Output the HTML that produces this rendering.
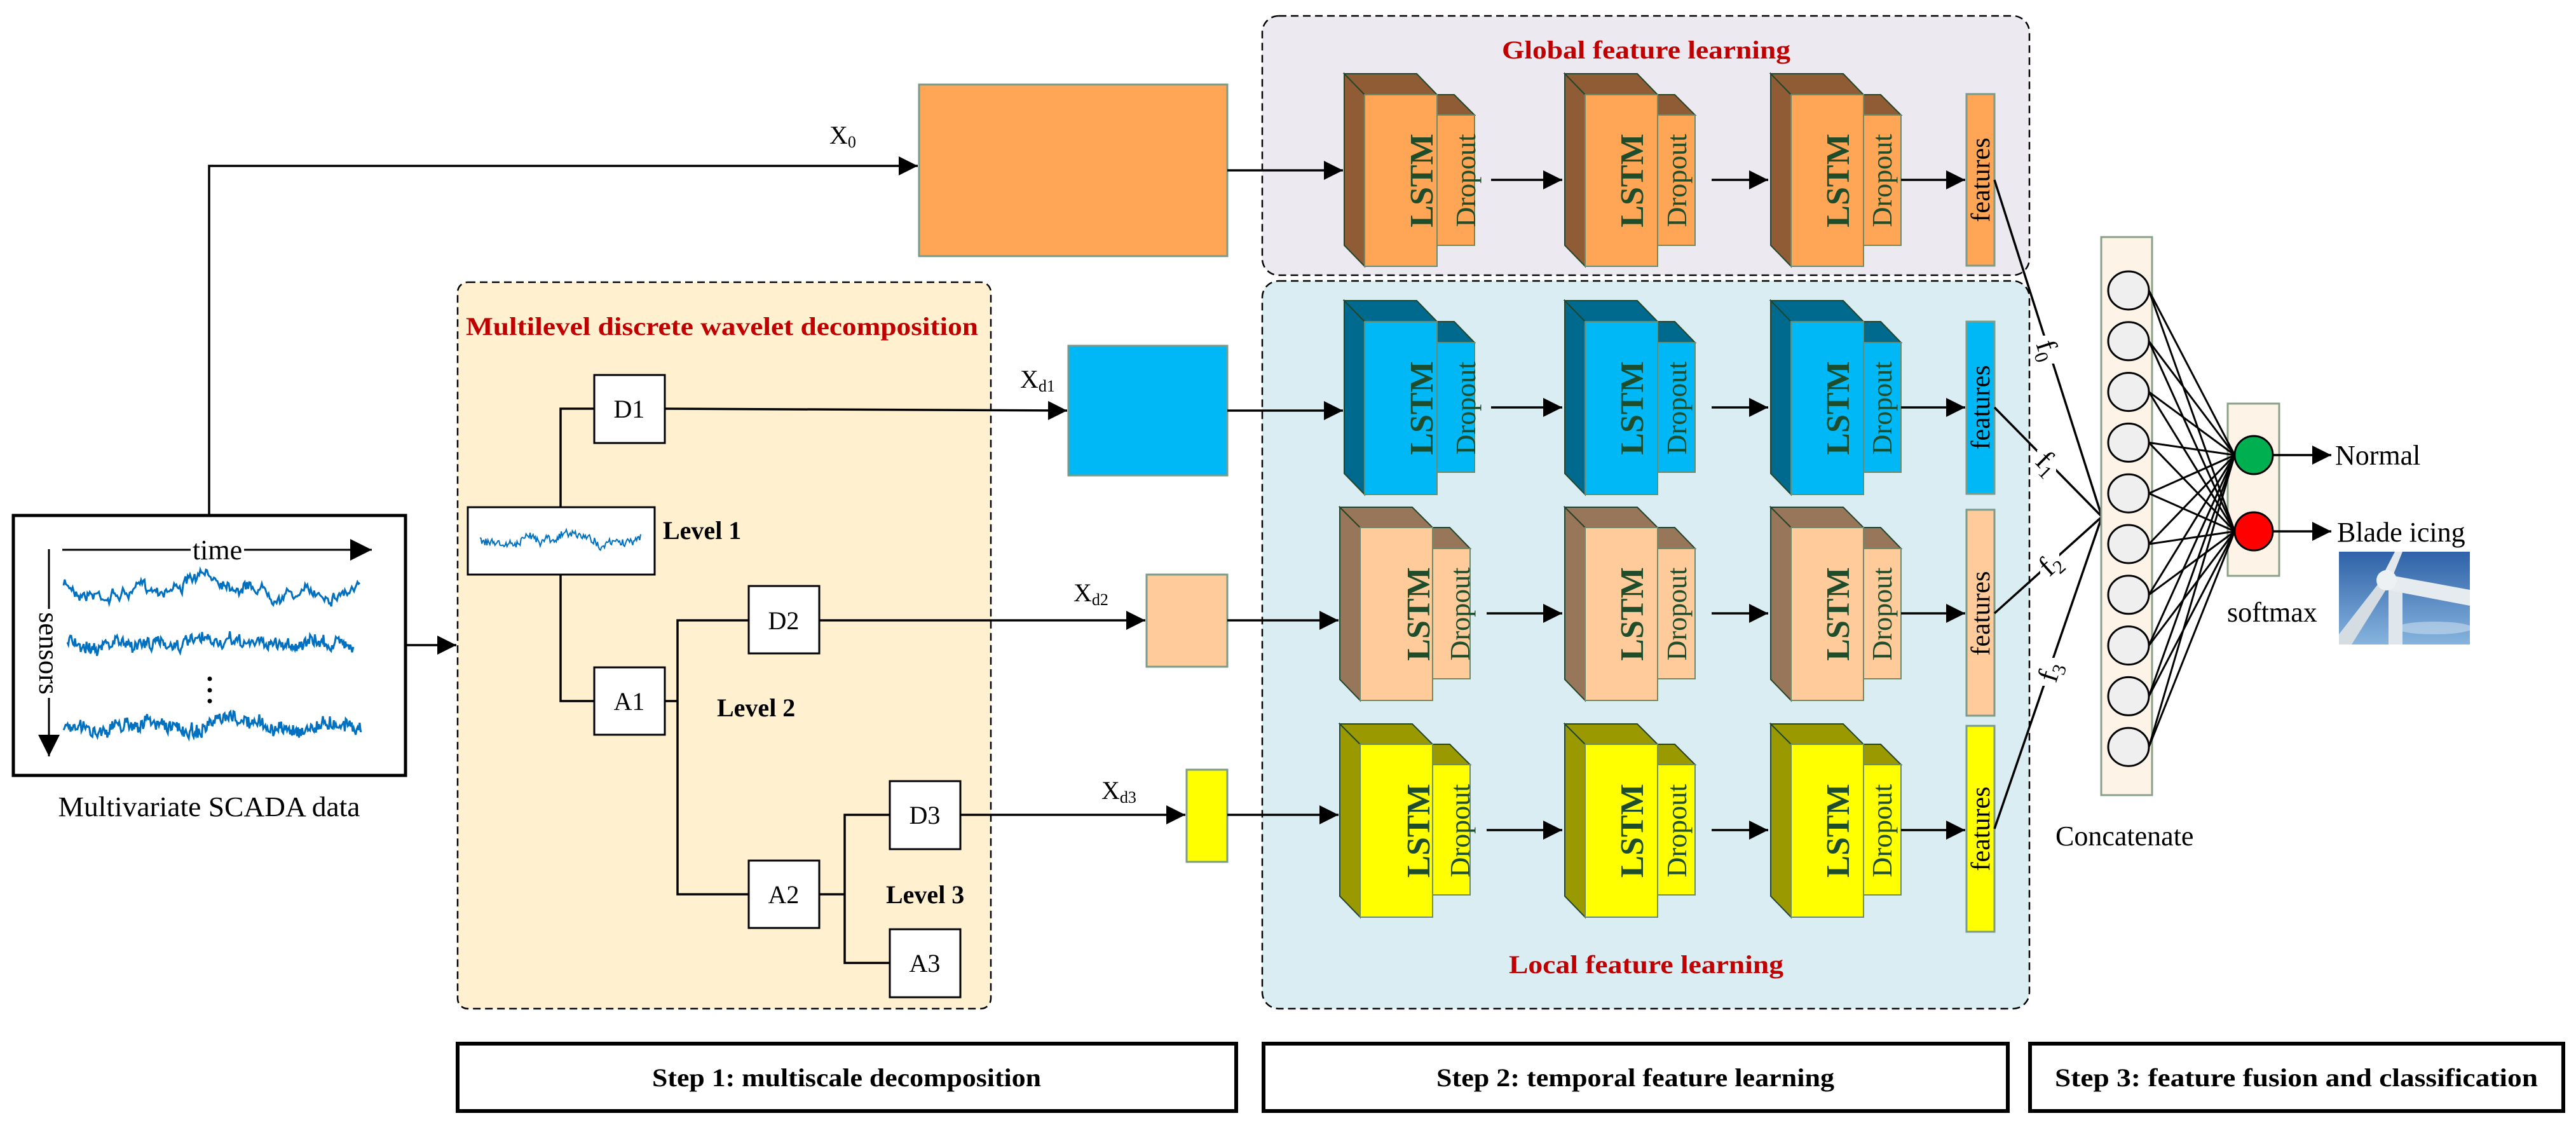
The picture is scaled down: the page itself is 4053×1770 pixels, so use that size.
<!DOCTYPE html>
<html><head><meta charset="utf-8"><style>
html,body{margin:0;padding:0;background:#fff;width:4053px;height:1770px;overflow:hidden}
svg{display:block}
text{font-family:"Liberation Serif",serif}
.b{font-weight:bold}
</style></head><body>
<svg id="s" width="4053" height="1770" viewBox="0 0 4053 1770" xmlns="http://www.w3.org/2000/svg">
<defs>
<marker id="ar" viewBox="0 0 10 10" refX="10" refY="5" markerWidth="42" markerHeight="30" markerUnits="userSpaceOnUse" orient="auto"><path d="M0,0 L10,5 L0,10 z" fill="#000"/></marker>
<marker id="a" viewBox="0 0 10 10" refX="10" refY="5" markerWidth="42" markerHeight="34" orient="auto" markerUnits="userSpaceOnUse"><path d="M0,0 L10,5 L0,10 z" fill="#000"/></marker>
<linearGradient id="sky" x1="0" y1="0" x2="0" y2="1"><stop offset="0" stop-color="#2f62a8"/><stop offset="1" stop-color="#86b4de"/></linearGradient>
</defs>
<rect x="720" y="444" width="839" height="1143" rx="16" fill="#FFF0CF" stroke="#000" stroke-width="2.5" stroke-dasharray="12,7"/>
<rect x="1986" y="25" width="1207" height="408" rx="26" fill="#ECE9F0" stroke="#000" stroke-width="2.5" stroke-dasharray="12,7"/>
<rect x="1986" y="442" width="1207" height="1145" rx="26" fill="#DAEDF3" stroke="#000" stroke-width="2.5" stroke-dasharray="12,7"/>
<text x="1136" y="527" font-size="40" class="b" fill="#C00000" text-anchor="middle" textLength="806" lengthAdjust="spacingAndGlyphs">Multilevel discrete wavelet decomposition</text>
<text x="2590" y="92" font-size="40" class="b" fill="#C00000" text-anchor="middle" textLength="454" lengthAdjust="spacingAndGlyphs">Global feature learning</text>
<text x="2590" y="1531" font-size="40" class="b" fill="#C00000" text-anchor="middle" textLength="432" lengthAdjust="spacingAndGlyphs">Local feature learning</text>

<rect x="21" y="811" width="617" height="409" fill="#fff" stroke="#000" stroke-width="5"/>
<line x1="98" y1="865" x2="585" y2="865" stroke="#000" stroke-width="3" marker-end="url(#a)"/>
<rect x="300" y="840" width="84" height="40" fill="#fff"/>
<text x="342" y="880" font-size="44" text-anchor="middle">time</text>
<line x1="77" y1="864" x2="77" y2="1190" stroke="#000" stroke-width="3" marker-end="url(#a)"/>
<rect x="60" y="958" width="34" height="140" fill="#fff"/>
<text x="0" y="0" font-size="44" text-anchor="middle" transform="translate(62,1028) rotate(90)">sensors</text>
<g id="sig" fill="none" stroke="#0070C0" stroke-width="3"></g>
<circle cx="330" cy="1068" r="3.5" fill="#000"/><circle cx="330" cy="1086" r="3.5" fill="#000"/><circle cx="330" cy="1103" r="3.5" fill="#000"/>
<text x="329" y="1284" font-size="44" text-anchor="middle" textLength="475" lengthAdjust="spacingAndGlyphs">Multivariate SCADA data</text>

<g stroke="#000" stroke-width="3.5" fill="none">
<polyline points="329,811 329,261 1444,261" marker-end="url(#ar)"/>
<line x1="639" y1="1015" x2="718" y2="1015" marker-end="url(#ar)"/>
<polyline points="935,643 882,643 882,798"/>
<polyline points="882,904 882,1103 935,1103"/>
<polyline points="1046,1103 1066,1103"/>
<polyline points="1178,976 1066,976 1066,1407 1178,1407"/>
<polyline points="1289,1407 1329,1407"/>
<polyline points="1400,1282 1329,1282 1329,1515 1400,1515"/>
<line x1="1046" y1="643" x2="1679" y2="646" marker-end="url(#ar)"/>
<line x1="1289" y1="976" x2="1802" y2="976" marker-end="url(#ar)"/>
<line x1="1511" y1="1282" x2="1865" y2="1282" marker-end="url(#ar)"/>
</g>
<g fill="#fff" stroke="#000" stroke-width="3">
<rect x="935" y="590" width="111" height="107"/>
<rect x="736" y="798" width="294" height="106"/>
<rect x="935" y="1050" width="111" height="106"/>
<rect x="1178" y="922" width="111" height="106"/>
<rect x="1178" y="1354" width="111" height="106"/>
<rect x="1400" y="1229" width="111" height="107"/>
<rect x="1400" y="1462" width="111" height="107"/>
</g>
<g id="sig2" fill="none" stroke="#0070C0" stroke-width="2"></g>
<g font-size="40" text-anchor="middle">
<text x="990" y="657">D1</text><text x="990" y="1117">A1</text>
<text x="1233" y="990">D2</text><text x="1233" y="1421">A2</text>
<text x="1455" y="1296">D3</text><text x="1455" y="1529">A3</text>
</g>
<g font-size="40" class="b">
<text x="1043" y="848">Level 1</text><text x="1128" y="1127">Level 2</text><text x="1394" y="1421">Level 3</text>
</g>
<g stroke="#7a9a8a" stroke-width="3">
<rect x="1446" y="133" width="485" height="270" fill="#FFA556"/>
<rect x="1681" y="544" width="250" height="204" fill="#00B8F5"/>
<rect x="1804" y="904" width="127" height="145" fill="#FFCB9A"/>
<rect x="1867" y="1211" width="64" height="145" fill="#FFFF00"/>
</g>
<g font-size="40">
<text x="1305" y="226">X<tspan font-size="26" dy="6">0</tspan></text>
<text x="1605" y="610">X<tspan font-size="26" dy="6">d1</tspan></text>
<text x="1689" y="946">X<tspan font-size="26" dy="6">d2</tspan></text>
<text x="1733" y="1257">X<tspan font-size="26" dy="6">d3</tspan></text>
</g>
<g stroke="#000" stroke-width="3.5">
<line x1="1931" y1="268" x2="2113" y2="268" marker-end="url(#ar)"/>
<line x1="1931" y1="646" x2="2113" y2="646" marker-end="url(#ar)"/>
<line x1="1931" y1="976" x2="2106" y2="976" marker-end="url(#ar)"/>
<line x1="1931" y1="1282" x2="2106" y2="1282" marker-end="url(#ar)"/>
</g>
<g id="blocks"></g>
<g fill="#1E4D2B">
<g class="b" font-size="52" text-anchor="middle">
<text transform="translate(2236,284) rotate(-90)" dy="18">LSTM</text>
<text transform="translate(2567,284) rotate(-90)" dy="18">LSTM</text>
<text transform="translate(2891,284) rotate(-90)" dy="18">LSTM</text>
<text transform="translate(2236,642) rotate(-90)" dy="18">LSTM</text>
<text transform="translate(2567,642) rotate(-90)" dy="18">LSTM</text>
<text transform="translate(2891,642) rotate(-90)" dy="18">LSTM</text>
<text transform="translate(2231,966) rotate(-90)" dy="18">LSTM</text>
<text transform="translate(2567,966) rotate(-90)" dy="18">LSTM</text>
<text transform="translate(2891,966) rotate(-90)" dy="18">LSTM</text>
<text transform="translate(2231,1307) rotate(-90)" dy="18">LSTM</text>
<text transform="translate(2567,1307) rotate(-90)" dy="18">LSTM</text>
<text transform="translate(2891,1307) rotate(-90)" dy="18">LSTM</text>
</g>
<g font-size="44" text-anchor="middle">
<text transform="translate(2306,284) rotate(-90)" dy="15">Dropout</text>
<text transform="translate(2638,284) rotate(-90)" dy="15">Dropout</text>
<text transform="translate(2961,284) rotate(-90)" dy="15">Dropout</text>
<text transform="translate(2306,642) rotate(-90)" dy="15">Dropout</text>
<text transform="translate(2638,642) rotate(-90)" dy="15">Dropout</text>
<text transform="translate(2961,642) rotate(-90)" dy="15">Dropout</text>
<text transform="translate(2297,966) rotate(-90)" dy="15">Dropout</text>
<text transform="translate(2638,966) rotate(-90)" dy="15">Dropout</text>
<text transform="translate(2961,966) rotate(-90)" dy="15">Dropout</text>
<text transform="translate(2297,1307) rotate(-90)" dy="15">Dropout</text>
<text transform="translate(2638,1307) rotate(-90)" dy="15">Dropout</text>
<text transform="translate(2961,1307) rotate(-90)" dy="15">Dropout</text>
</g>
</g>
<g font-size="42" text-anchor="middle" fill="#000">
<text transform="translate(3116,283) rotate(-90)" dy="14">features</text>
<text transform="translate(3116,641) rotate(-90)" dy="14">features</text>
<text transform="translate(3116,965) rotate(-90)" dy="14">features</text>
<text transform="translate(3116,1304) rotate(-90)" dy="14">features</text>
</g>
<g stroke="#000" stroke-width="3.5" fill="none">
<line x1="3138" y1="283" x2="3307" y2="813"/>
<line x1="3138" y1="641" x2="3307" y2="813"/>
<line x1="3138" y1="965" x2="3307" y2="813"/>
<line x1="3138" y1="1304" x2="3307" y2="813"/>
</g>
<g fill="#fff">
<rect x="3205" y="528" width="30" height="44"/>
<rect x="3205" y="708" width="30" height="44"/>
<rect x="3210" y="866" width="30" height="44"/>
<rect x="3210" y="1035" width="30" height="44"/>
</g>
<g font-size="46" fill="#000" text-anchor="middle">
<text transform="translate(3221,551) rotate(72)" dy="14">f<tspan font-size="30" dy="8">0</tspan></text>
<text transform="translate(3221,729) rotate(45)" dy="14">f<tspan font-size="30" dy="8">1</tspan></text>
<text transform="translate(3226,888) rotate(-42)" dy="14">f<tspan font-size="30" dy="8">2</tspan></text>
<text transform="translate(3226,1057) rotate(-72)" dy="14">f<tspan font-size="30" dy="8">3</tspan></text>
</g>
<rect x="3306" y="373" width="80" height="878" fill="#FDF3E6" stroke="#8BA08B" stroke-width="3"/>
<rect x="3505" y="635" width="81" height="271" fill="#FDF3E6" stroke="#8BA08B" stroke-width="3"/>
<g id="nn" stroke="#000" stroke-width="3"></g>
<ellipse cx="3546" cy="716" rx="30" ry="30" fill="#00B050" stroke="#000" stroke-width="3"/>
<ellipse cx="3546" cy="836" rx="30" ry="30" fill="#FF0000" stroke="#000" stroke-width="3"/>
<g stroke="#000" stroke-width="3.5">
<line x1="3577" y1="716" x2="3668" y2="716" marker-end="url(#ar)"/>
<line x1="3577" y1="836" x2="3668" y2="836" marker-end="url(#ar)"/>
</g>
<g font-size="44">
<text x="3674" y="731">Normal</text>
<text x="3677" y="852">Blade icing</text>
<text x="3504" y="978">softmax</text>
<text x="3234" y="1330">Concatenate</text>
</g>
<svg x="3680" y="868" width="206" height="146" viewBox="0 0 206 146">
<rect width="206" height="146" fill="url(#sky)"/>
<ellipse cx="150" cy="120" rx="60" ry="10" fill="#c8dcee" opacity="0.6"/>
<rect x="78" y="60" width="22" height="86" fill="#dfe6ec"/>
<polygon points="70,35 206,60 206,85 75,60" fill="#e6ebef"/>
<polygon points="70,40 80,50 20,146 0,146 0,130" fill="#d5dde3"/>
<polygon points="70,35 84,40 100,0 88,0" fill="#e3e8ec"/>
<ellipse cx="75" cy="45" rx="16" ry="16" fill="#eef1f3"/>
</svg>
<g fill="#fff" stroke="#000" stroke-width="6">
<rect x="720" y="1642" width="1225" height="106"/>
<rect x="1988" y="1642" width="1171" height="106"/>
<rect x="3194" y="1642" width="839" height="106"/>
</g>
<g font-size="40" class="b" text-anchor="middle">
<text x="1332" y="1709" textLength="612" lengthAdjust="spacingAndGlyphs">Step 1: multiscale decomposition</text>
<text x="2573" y="1709" textLength="626" lengthAdjust="spacingAndGlyphs">Step 2: temporal feature learning</text>
<text x="3613" y="1709" textLength="760" lengthAdjust="spacingAndGlyphs">Step 3: feature fusion and classification</text>
</g>
</svg>
<script>
(function(){
var NS="http://www.w3.org/2000/svg";
function el(t,a,p){var e=document.createElementNS(NS,t);for(var k in a)e.setAttribute(k,a[k]);p.appendChild(e);return e;}
var seed=7;function rnd(){seed=(seed*16807)%2147483647;return seed/2147483647;}
function sig(g,x0,x1,y,amp,slow,fast,n){var d="",s=0;for(var i=0;i<=n;i++){var x=x0+(x1-x0)*i/n;s=s*0.9+(rnd()-0.5)*amp*0.5;var v=Math.sin(i/n*slow*6.28)*amp*0.5+s+(rnd()-0.5)*amp*fast;d+=(i?"L":"M")+x.toFixed(1)+","+(y+v).toFixed(1);}el("path",{d:d},g);}
var g=document.getElementById("sig");
sig(g,100,566,922,22,1.5,0.5,260);sig(g,106,557,1012,14,0,1.2,300);sig(g,100,569,1142,14,3,1.4,300);
sig(document.getElementById("sig2"),755,1008,848,16,1.5,0.6,160);
var B=document.getElementById("blocks");
var rows=[
 {y:[116,149,419,181,386],f:"#FFA556",s:"#8F5C36",bx:[2115,2462,2786],ay:283,fy:[148,418]},
 {y:[473,506,778,539,743],f:"#00B8F5",s:"#006A8E",bx:[2115,2462,2786],ay:641,fy:[506,777]},
 {y:[798,830,1102,863,1068],f:"#FFCB9A",s:"#98765A",bx:[2108,2462,2786],ay:965,fy:[802,1126]},
 {y:[1139,1171,1443,1203,1408],f:"#FFFF00",s:"#9A9A00",bx:[2108,2462,2786],ay:1306,fy:[1142,1466]}];
rows.forEach(function(r){
 r.bx.forEach(function(bx,i){
  var bt=r.y[0],ft=r.y[1],bo=r.y[2],dt=r.y[3],db=r.y[4],fx=bx+32,fx2=bx+146,dr=bx+205,st="#22452A";
  el("polygon",{points:fx2+","+ft+" "+(fx2+27)+","+ft+" "+dr+","+dt+" "+fx2+","+dt,fill:r.s,stroke:st,"stroke-width":2},B);
  el("rect",{x:fx2,y:dt,width:dr-fx2,height:db-dt,fill:r.f,stroke:"#6c8a6c","stroke-width":2},B);
  el("polygon",{points:bx+","+bt+" "+fx+","+ft+" "+fx+","+bo+" "+bx+","+(bo-33),fill:r.s,stroke:st,"stroke-width":2},B);
  el("polygon",{points:bx+","+bt+" "+(bx+114)+","+bt+" "+fx2+","+ft+" "+fx+","+ft,fill:r.s,stroke:st,"stroke-width":2},B);
  el("rect",{x:fx,y:ft,width:fx2-fx,height:bo-ft,fill:r.f,stroke:"#6c8a6c","stroke-width":2},B);
  var nx=(i<2)?r.bx[i+1]-4:3092;var sx=(i<2)?dr+26:dr;
  el("line",{x1:sx,y1:r.ay,x2:nx,y2:r.ay,stroke:"#000","stroke-width":3.5,"marker-end":"url(#ar)"},B);
 });
 el("rect",{x:3094,y:r.fy[0],width:44,height:r.fy[1]-r.fy[0],fill:r.f,stroke:"#7a9a8a","stroke-width":3},B);
});
var N=document.getElementById("nn");
var cys=[];for(var i=0;i<10;i++)cys.push(457+79.8*i);
cys.forEach(function(cy){[716,836].forEach(function(t){el("line",{x1:3381,y1:cy,x2:3516,y2:t},N);});});
cys.forEach(function(cy){el("ellipse",{cx:3349,cy:cy,rx:32,ry:30,fill:"#EFEFEF",stroke:"#000","stroke-width":3},N);});
})();
</script>
</body></html>
